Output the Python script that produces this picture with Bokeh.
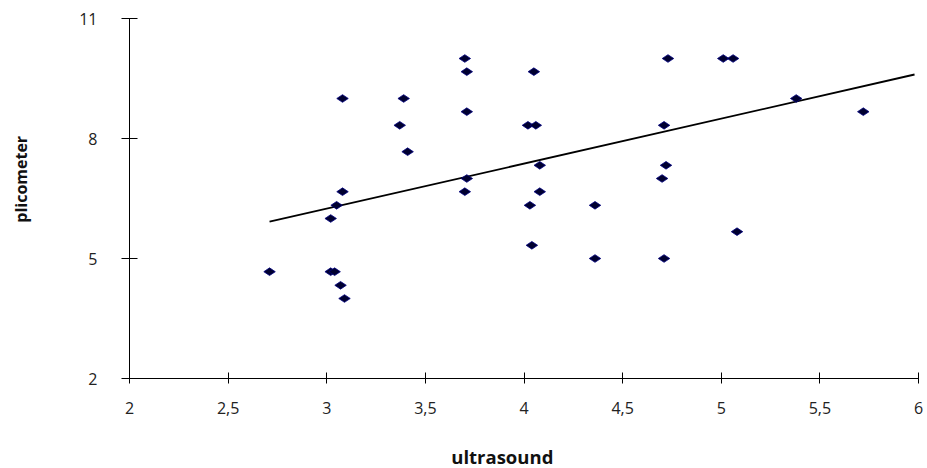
import math
from bokeh.plotting import figure
from bokeh.models import ColumnDataSource, FixedTicker, CustomJSTickFormatter, Range1d, Label
from bokeh.embed import file_html
from bokeh.resources import INLINE

# ---- data ----
ultrasound = [2.71, 3.02, 3.04, 3.07, 3.09, 3.02, 3.05, 3.08, 3.08, 3.39, 3.37, 3.41,
              3.70, 3.71, 3.71, 3.71, 3.70, 4.05, 4.02, 4.06, 4.71, 4.73, 5.01, 5.06,
              5.38, 5.72, 4.08, 4.08, 4.72, 4.70, 4.03, 4.36, 4.04, 4.36, 4.71, 5.08]
plicometer = [4.67, 4.67, 4.67, 4.33, 4.00, 6.00, 6.33, 6.67, 9.00, 9.00, 8.33, 7.67,
              10.00, 9.67, 8.67, 7.00, 6.67, 9.67, 8.33, 8.33, 8.33, 10.00, 10.00, 10.00,
              9.00, 8.67, 7.33, 6.67, 7.33, 7.00, 6.33, 6.33, 5.33, 5.00, 5.00, 5.67]
trend_x = [2.71, 5.98]
trend_y = [5.92, 9.60]
x_ticks = [2, 2.5, 3, 3.5, 4, 4.5, 5, 5.5, 6]
y_ticks = [2, 5, 8, 11]
x_title = "ultrasound"
y_title = "plicometer"

FONT = "Open Sans"

p = figure(width=927, height=468, output_backend="svg", toolbar_location=None,
           x_range=Range1d(2, 6), y_range=Range1d(2, 11),
           min_border_left=129, min_border_right=9, min_border_top=18,
           min_border_bottom=90)
p.outline_line_color = None
p.grid.visible = False
p.background_fill_color = "white"
p.border_fill_color = "white"

src = ColumnDataSource(dict(x=ultrasound, y=plicometer))
p.line(trend_x, trend_y, line_color="black", line_width=1.8)
p.scatter("x", "y", source=src, marker="diamond", size=11.5, angle=math.pi / 2,
          fill_color="#000030", line_color="#000080", line_width=0.8)

fmt = CustomJSTickFormatter(code="return tick.toString().replace('.', ',');")

xa = p.xaxis[0]
xa.ticker = FixedTicker(ticks=x_ticks)
xa.formatter = fmt
xa.axis_line_color = "black"
xa.major_tick_line_color = "black"
xa.major_tick_in = 6
xa.major_tick_out = 5
xa.minor_tick_line_color = None
xa.major_label_standoff = 18
xa.major_label_text_font = FONT
xa.major_label_text_font_size = "16px"
xa.major_label_text_color = "#222222"

ya = p.yaxis[0]
ya.ticker = FixedTicker(ticks=y_ticks)
ya.formatter = fmt
ya.axis_line_color = "black"
ya.major_tick_line_color = "black"
ya.major_tick_in = 8
ya.major_tick_out = 8
ya.minor_tick_line_color = None
ya.major_label_standoff = 24
ya.major_label_text_font = FONT
ya.major_label_text_font_size = "16px"
ya.major_label_text_color = "#222222"

# axis titles as labels in the side panels, placed like the reference
p.add_layout(Label(x=3.89, y=0.04, text=x_title,
                   text_font=FONT, text_font_size="18.5px", text_font_style="bold",
                   text_color="#111111", text_align="center", text_baseline="middle"),
             "below")
p.add_layout(Label(x=1.45, y=6.98, text=y_title, angle=math.pi / 2,
                   text_font=FONT, text_font_size="16px", text_font_style="bold",
                   text_color="#111111", text_align="center", text_baseline="middle"),
             "left")

open("out.html", "w").write(file_html(p, INLINE))
